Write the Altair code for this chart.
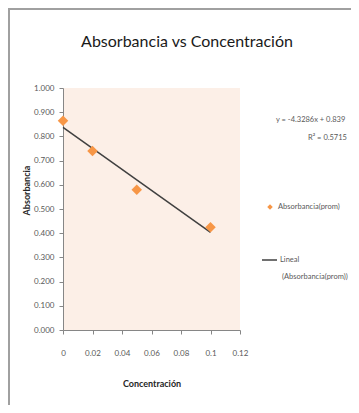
import altair as alt
import pandas as pd

# Data
conc = [0, 0.02, 0.05, 0.1]
absorb = [0.865, 0.74, 0.58, 0.425]
x_ticks = [0, 0.02, 0.04, 0.06, 0.08, 0.1, 0.12]
y_ticks = [0.0, 0.1, 0.2, 0.3, 0.4, 0.5, 0.6, 0.7, 0.8, 0.9, 1.0]

title_text = "Absorbancia vs Concentración"
eq_text = "y = -4.3286x + 0.839"
r2_text = "R² = 0.5715"
series_label = "Absorbancia(prom)"
trend_label_1 = "Lineal"
trend_label_2 = "(Absorbancia(prom))"

FONT = "Liberation Sans Narrow, Lato, Liberation Sans, sans-serif"
ORANGE = "#F79646"
LINE = "#404040"
TXT = "#595959"

df = pd.DataFrame({"conc": conc, "abs": absorb})
one = pd.DataFrame({"k": [0]})

x_enc = alt.X(
    "conc:Q",
    scale=alt.Scale(domain=[0, 0.12], nice=False),
    axis=alt.Axis(
        values=x_ticks, title="Concentración", grid=False,
        labelExpr="datum.value == 0 ? '0' : format(datum.value, '.2~f')",
        tickSize=4, labelPadding=15, titleY=53, titleBaseline="middle",
        labelOverlap=False, labelFlush=False, labelBound=False,
        domainColor="#868686", tickColor="#868686",
    ),
)
y_enc = alt.Y(
    "abs:Q",
    scale=alt.Scale(domain=[0, 1], nice=False),
    axis=alt.Axis(
        values=y_ticks, format=".3f", title="Absorbancia", grid=False,
        tickSize=4, labelPadding=5, titleX=-37, titleY=102,
        titleFontWeight="bold", titleAngle=-90, titleAlign="center",
        titleBaseline="middle", labelOverlap=False, labelFlush=False,
        domainColor="#868686", tickColor="#868686",
    ),
)

points = alt.Chart(df).mark_point(
    shape="diamond", filled=True, size=110, color=ORANGE, opacity=1
).encode(x=x_enc, y=y_enc)

trend = alt.Chart(df).transform_regression(
    "conc", "abs", extent=[0, 0.1]
).mark_line(color=LINE, strokeWidth=1.5).encode(x=x_enc, y=y_enc)

def txt(text, x, y, size=8, color=TXT, align="left", weight="normal"):
    return alt.Chart(one).mark_text(
        text=text, font=FONT, fontSize=size, color=color, align=align,
        baseline="middle", fontWeight=weight,
    ).encode(x=alt.value(x), y=alt.value(y))

title = txt(title_text, 124, -46, size=16, color="#1a1a1a", align="center")
eq = txt(eq_text, 213, 32, size=7.5)
r2 = txt(r2_text, 245, 50, size=7.5)
leg_pt = alt.Chart(one).mark_point(
    shape="diamond", filled=True, size=30, color=ORANGE, opacity=1
).encode(x=alt.value(207), y=alt.value(119))
leg_t1 = txt(series_label, 215, 119, size=7.5)
leg_line = alt.Chart(one).mark_rule(color=LINE, strokeWidth=1.5).encode(
    x=alt.value(199), x2=alt.value(214), y=alt.value(172)
)
leg_t2 = txt(trend_label_1, 217, 172, size=7.5)
leg_t3 = txt(trend_label_2, 219, 189, size=7.5)

frame_left = alt.Chart(one).mark_rule(color="#a0a0a0", strokeWidth=2).encode(
    x=alt.value(-54), y=alt.value(-80), y2=alt.value(320)
)
frame_top = alt.Chart(one).mark_rule(color="#a0a0a0", strokeWidth=2).encode(
    x=alt.value(-54), x2=alt.value(300), y=alt.value(-79)
)

chart = alt.layer(
    frame_left, frame_top, trend, points, title, eq, r2,
    leg_pt, leg_t1, leg_line, leg_t2, leg_t3,
).properties(
    width=177, height=242,
    autosize=alt.AutoSizeParams(type="none"),
    padding={"left": 55, "top": 80, "right": 111, "bottom": 75},
    background="white",
).configure_view(
    fill="#FCEFE7", stroke=None
).configure_axis(
    labelFont=FONT, titleFont=FONT, labelFontSize=8, titleFontSize=9,
    labelColor=TXT, titleColor="#262626",
)

chart.save("out.html", embed_options={"renderer": "svg", "actions": False})
